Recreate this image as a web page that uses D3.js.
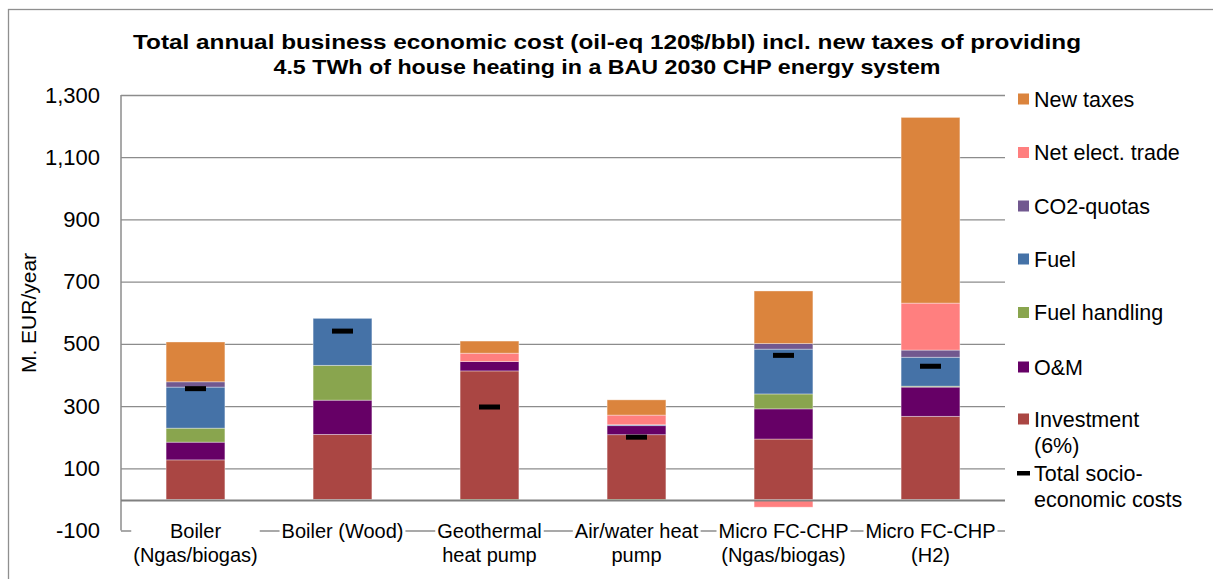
<!DOCTYPE html>
<html>
<head>
<meta charset="utf-8">
<script src="https://cdn.jsdelivr.net/npm/d3@7"></script>
<style>
  html, body { margin: 0; padding: 0; background: #fff; }
  svg { display: block; font-family: "Liberation Sans", Arial, sans-serif; }
</style>
</head>
<body>
<svg id="chart" width="1213" height="579"></svg>
<script>
// ---- data ----
const categories = ["Boiler\n(Ngas/biogas)", "Boiler (Wood)", "Geothermal\nheat pump", "Air/water heat\npump", "Micro FC-CHP\n(Ngas/biogas)", "Micro FC-CHP\n(H2)"];
const seriesNames = ["Investment (6%)", "O&M", "Fuel handling", "Fuel", "CO2-quotas", "Net elect. trade", "New taxes"];
const investment   = [127, 209, 413, 208, 194, 267];
const om           = [57, 110, 30, 29, 97, 94];
const fuelHandling = [45, 112, -5, -5, 48, 3];
const fuel         = [132, 151, 0, 3, 144, 93];
const co2          = [17, 0, 0, 0, 18, 23];
const netElect     = [0, 0, 27, 31, -25, 151];
const newTaxes     = [128, 0, 39, 49, 169, 597];
const totalSocio   = [356, 541, 297, 200, 463, 428];
const yTicks = [-100, 100, 300, 500, 700, 900, 1100, 1300];
const titleLines = ["Total annual business economic cost (oil-eq 120$/bbl) incl. new taxes of providing", "4.5 TWh of house heating in a BAU 2030 CHP energy system"];
const yTitle = "M. EUR/year";
const legendLabels = ["New taxes", "Net elect. trade", "CO2-quotas", "Fuel", "Fuel handling", "O&M", "Investment\n(6%)", "Total socio-\neconomic costs"];

const colors = {
  "Investment (6%)": "#AA4643",
  "O&M": "#660066",
  "Fuel handling": "#89A54E",
  "Fuel": "#4572A7",
  "CO2-quotas": "#71588F",
  "Net elect. trade": "#FF7F7F",
  "New taxes": "#DB843D"
};
const seriesValues = [investment, om, fuelHandling, fuel, co2, netElect, newTaxes];

// ---- build table ----
const table = categories.map((c, i) => {
  const row = { cat: c };
  seriesNames.forEach((s, k) => row[s] = seriesValues[k][i]);
  return row;
});

const svg = d3.select("#chart");
const font = '"Liberation Sans", Arial, sans-serif';

// outer frame
svg.append("rect").attr("x", 8.5).attr("y", 9.5).attr("width", 1300).attr("height", 700)
  .attr("fill", "none").attr("stroke", "#8f8f8f").attr("stroke-width", 1.3);

const plotLeft = 121, plotRight = 1005;
const x = d3.scaleBand().domain(categories).range([122, 1004]).paddingInner(0.6).paddingOuter(0.3);
const y = d3.scaleLinear().domain([-100, 1300]).range([530.5, 95]);

// gridlines
const grid = svg.append("g").attr("transform", `translate(${plotLeft},0)`)
  .call(d3.axisLeft(y).tickValues(yTicks).tickSize(-(plotRight - plotLeft)).tickFormat(""));
grid.select(".domain").remove();
grid.selectAll(".tick line").attr("stroke", "#8c8c8c").attr("stroke-width", 1.3);

// y tick labels (hyphen minus as in original)
const fmt = d3.format(",");
const yAx = svg.append("g").attr("transform", `translate(${plotLeft},0)`)
  .call(d3.axisLeft(y).tickValues(yTicks).tickSize(0).tickPadding(21).tickFormat(d => fmt(d).replace("\u2212", "-")));
yAx.select(".domain").remove();
yAx.selectAll("text").attr("font-size", 22).attr("font-family", font).attr("fill", "#000");

// left axis line
svg.append("line").attr("x1", plotLeft).attr("x2", plotLeft).attr("y1", y(1300)).attr("y2", y(-100))
  .attr("stroke", "#8c8c8c").attr("stroke-width", 1.5);

// stacked bars
const stack = d3.stack().keys(seriesNames).offset(d3.stackOffsetDiverging);
const stacked = stack(table);
svg.append("g").selectAll("g").data(stacked).join("g")
  .attr("fill", d => colors[d.key])
  .selectAll("rect").data(d => d.filter(p => p[1] !== p[0])).join("rect")
  .attr("x", d => x(d.data.cat))
  .attr("width", x.bandwidth())
  .attr("y", d => y(Math.max(d[0], d[1])))
  .attr("height", d => Math.abs(y(d[0]) - y(d[1])))
  .attr("stroke", "rgba(255,255,255,0.45)").attr("stroke-width", 0.8);

// zero line
svg.append("line").attr("x1", plotLeft).attr("x2", plotRight).attr("y1", y(0) + 1).attr("y2", y(0) + 1)
  .attr("stroke", "#808080").attr("stroke-width", 2);

// total markers
svg.append("g").selectAll("rect").data(totalSocio).join("rect")
  .attr("x", (d, i) => x(categories[i]) + x.bandwidth() / 2 - 10.5)
  .attr("width", 21)
  .attr("y", d => y(d) - 2.5)
  .attr("height", 5)
  .attr("fill", "#000");

// category labels with white masks over bottom axis line
const catG = svg.append("g");
categories.forEach(c => {
  const g = catG.append("g");
  const cx = x(c) + x.bandwidth() / 2;
  const lines = c.split("\n");
  const t = g.append("text").attr("text-anchor", "middle").attr("font-size", 20).attr("font-family", font).attr("fill", "#000");
  lines.forEach((l, i) => t.append("tspan").attr("x", cx).attr("y", 538 + i * 23.5).text(l));
  const bb = t.node().getBBox();
  g.insert("rect", "text").attr("x", bb.x - 2).attr("y", bb.y).attr("width", bb.width + 4).attr("height", bb.height).attr("fill", "#fff");
});

// title
const titleG = svg.append("g");
const titleWidths = [948, 667];
titleLines.forEach((l, i) => {
  const t = titleG.append("text").attr("x", 607).attr("y", 49 + i * 24.5).attr("text-anchor", "middle")
    .attr("font-size", 21).attr("font-weight", "bold").attr("font-family", font).attr("fill", "#000").text(l);
  t.attr("textLength", titleWidths[i]).attr("lengthAdjust", "spacingAndGlyphs");
});

// y title
svg.append("text").attr("transform", `translate(36,313) rotate(-90)`).attr("text-anchor", "middle")
  .attr("font-size", 21).attr("font-family", font).attr("fill", "#000").text(yTitle);

// legend
const legendCenters = [99, 152.5, 206, 259, 312.5, 367, 419, 473];
const legendKeys = ["New taxes", "Net elect. trade", "CO2-quotas", "Fuel", "Fuel handling", "O&M", "Investment (6%)", "total"];
const lg = svg.append("g");
legendLabels.forEach((lab, i) => {
  const cy = legendCenters[i];
  if (legendKeys[i] === "total") {
    lg.append("rect").attr("x", 1017).attr("y", cy - 2).attr("width", 13).attr("height", 4.5).attr("fill", "#000");
  } else {
    lg.append("rect").attr("x", 1018).attr("y", cy - 5.5).attr("width", 11).attr("height", 11).attr("fill", colors[legendKeys[i]]);
  }
  const t = lg.append("text").attr("font-size", 21.5).attr("font-family", font).attr("fill", "#000");
  lab.split("\n").forEach((l, j) => t.append("tspan").attr("x", 1034).attr("y", cy + 7.5 + j * 26.5).text(l));
});
</script>
</body>
</html>
